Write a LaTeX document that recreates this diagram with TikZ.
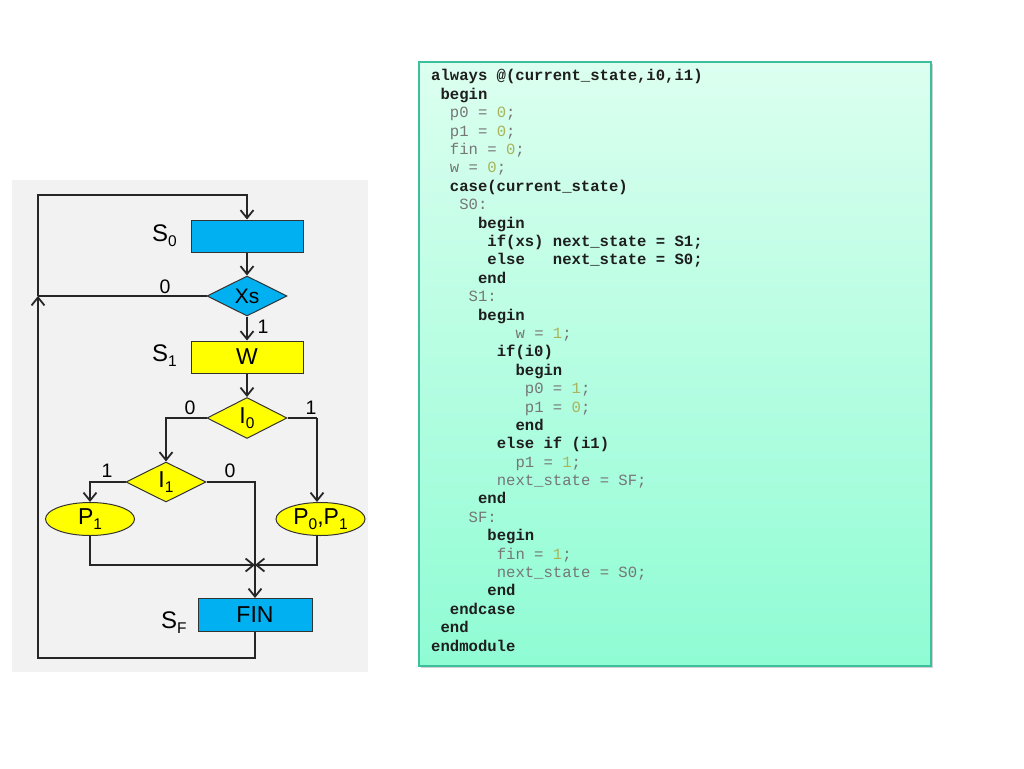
\documentclass[tikz,border=0pt]{standalone}
\usepackage{fontspec}
\setmainfont{Liberation Sans}
\newfontfamily\codefont{Liberation Mono}
\usetikzlibrary{shapes.geometric,arrows.meta,calc}
\definecolor{fcblue}{HTML}{00B0F0}
\definecolor{fcyel}{HTML}{FFFF00}
\definecolor{panel}{HTML}{F2F2F2}
\definecolor{ctop}{HTML}{DCFFF0}
\definecolor{cbot}{HTML}{8FFCD4}
\definecolor{cedge}{HTML}{3CBF9C}
\definecolor{kwc}{HTML}{1E1E1E}
\definecolor{txc}{HTML}{767676}
\definecolor{numc}{HTML}{A8B45A}
\newcommand\cK[1]{{\bfseries\color{kwc}#1}}
\newcommand\cN[1]{{\color{txc}#1}}
\newcommand\cV[1]{{\color{numc}#1}}
\newcommand\sbs[1]{\raisebox{-5pt}{\fontsize{15.5}{15.5}\selectfont #1}}
\newcommand\cl[3]{\node[codeline] (c#1) at ({431+9.37*#2},{81+18.39*#1}) {#3};}
\tikzset{
  codeline/.style={anchor=base west,inner sep=0pt,font=\codefont\fontsize{15.6}{18}\selectfont},
  flow/.style={draw=black!85,line width=2.1pt},
  arr/.style={flow,-{Straight Barb[length=8pt,width=13pt,line width=1.8pt]}},
  box/.style={draw=black!80,line width=1pt,minimum height=32pt,inner sep=0pt,font=\fontsize{23}{23}\selectfont},
  dia/.style={shape=diamond,draw=black!80,line width=1pt,aspect=2,inner sep=0pt,minimum width=80pt,minimum height=40pt,fill=#1},
  ell/.style={shape=ellipse,draw=black!80,line width=1pt,inner sep=0pt,minimum width=89pt,minimum height=33pt,fill=fcyel,font=\fontsize{23}{23}\selectfont},
  lbl/.style={inner sep=0pt,font=\fontsize{19.5}{19.5}\selectfont},
  slbl/.style={inner sep=0pt,anchor=base west,font=\fontsize{24}{24}\selectfont}
}
\begin{document}
\begin{tikzpicture}[x=1pt,y=-1pt]
\useasboundingbox (0,0) rectangle (1024,768);
% left panel
\fill[panel] (12,180) rectangle (368,672);
% nodes
\node[box,fill=fcblue,minimum width=112pt] (s0) at (247,236) {};
\node[dia=fcblue,font=\fontsize{21}{21}\selectfont] (xs) at (247,296) {Xs};
\node[box,fill=fcyel,minimum width=112pt] (w) at (247,357) {W};
\node[dia=fcyel,minimum height=41pt,font=\fontsize{23}{23}\selectfont] (i0) at (247,418) {I\sbs{0}};
\node[dia=fcyel,font=\fontsize{23}{23}\selectfont] (i1) at (166,482) {I\sbs{1}};
\node[ell] (p1) at (90,519) {P\sbs{1}};
\node[ell] (p01) at (320.5,519) {P\sbs{0},P\sbs{1}};
\node[box,fill=fcblue,minimum width=114pt,minimum height=33pt] (fin) at (255,615) {FIN};
% state labels
\node[slbl] (ls0) at (152,241) {S\sbs{0}};
\node[slbl] (ls1) at (152,361) {S\sbs{1}};
\node[slbl] (lsf) at (161,628) {S\sbs{F}};
% branch labels
\node[lbl] (l0xs) at (165,287) {0};
\node[lbl] (l1xs) at (263,327) {1};
\node[lbl] (l0i0) at (190,408) {0};
\node[lbl] (l1i0) at (311,408) {1};
\node[lbl] (l1i1) at (107,471) {1};
\node[lbl] (l0i1) at (230,471) {0};
% coordinates
\coordinate (loopA) at (38,296);
\coordinate (loopT) at (38,195);
\coordinate (loopB) at (38,658);
\coordinate (rI0) at (317,418);
\coordinate (join) at (255,565);
% connectors
\draw[arr] (s0.south) -- (xs.north);
\draw[arr] (xs.south) -- (w.north);
\draw[arr] (w.south) -- (i0.north);
\draw[flow] (xs.west) -- (loopA);
\draw[arr] (i0.west) -| (i1.north);
\draw[flow] (i0.east) -- (rI0);
\draw[arr] (rI0) -- (rI0 |- p01.north);
\draw[arr] (i1.west) -| (p1.north);
\draw[arr] (i1.east) -| (fin.north);
\draw[arr] (p1.south) |- (join);
\draw[arr] (p01.south -| rI0) |- (join);
\draw[arr] (fin.south) |- (loopB) -- (loopA);
\draw[arr] (loopA) -- (loopT) -| (s0.north);
% code box
\fill[black,opacity=0.18] (421,64) rectangle (933,668);
\shade[top color=ctop,bottom color=cbot] (419,62) rectangle (931,666);
\draw[cedge,line width=1.4pt] (419,62) rectangle (931,666);
\cl{0}{0}{\cK{always @(current\_state,i0,i1)}}
\cl{1}{1}{\cK{begin}}
\cl{2}{2}{\cN{p0 = }\cV{0}\cN{;}}
\cl{3}{2}{\cN{p1 = }\cV{0}\cN{;}}
\cl{4}{2}{\cN{fin = }\cV{0}\cN{;}}
\cl{5}{2}{\cN{w = }\cV{0}\cN{;}}
\cl{6}{2}{\cK{case(current\_state)}}
\cl{7}{3}{\cN{S0:}}
\cl{8}{5}{\cK{begin}}
\cl{9}{6}{\cK{if(xs) next\_state = S1;}}
\cl{10}{6}{\cK{else\ \ \ next\_state = S0;}}
\cl{11}{5}{\cK{end}}
\cl{12}{4}{\cN{S1:}}
\cl{13}{5}{\cK{begin}}
\cl{14}{9}{\cN{w = }\cV{1}\cN{;}}
\cl{15}{7}{\cK{if(i0)}}
\cl{16}{9}{\cK{begin}}
\cl{17}{10}{\cN{p0 = }\cV{1}\cN{;}}
\cl{18}{10}{\cN{p1 = }\cV{0}\cN{;}}
\cl{19}{9}{\cK{end}}
\cl{20}{7}{\cK{else if (i1)}}
\cl{21}{9}{\cN{p1 = }\cV{1}\cN{;}}
\cl{22}{7}{\cN{next\_state = SF;}}
\cl{23}{5}{\cK{end}}
\cl{24}{4}{\cN{SF:}}
\cl{25}{6}{\cK{begin}}
\cl{26}{7}{\cN{fin = }\cV{1}\cN{;}}
\cl{27}{7}{\cN{next\_state = S0;}}
\cl{28}{6}{\cK{end}}
\cl{29}{2}{\cK{endcase}}
\cl{30}{1}{\cK{end}}
\cl{31}{0}{\cK{endmodule}}
\end{tikzpicture}
\end{document}
